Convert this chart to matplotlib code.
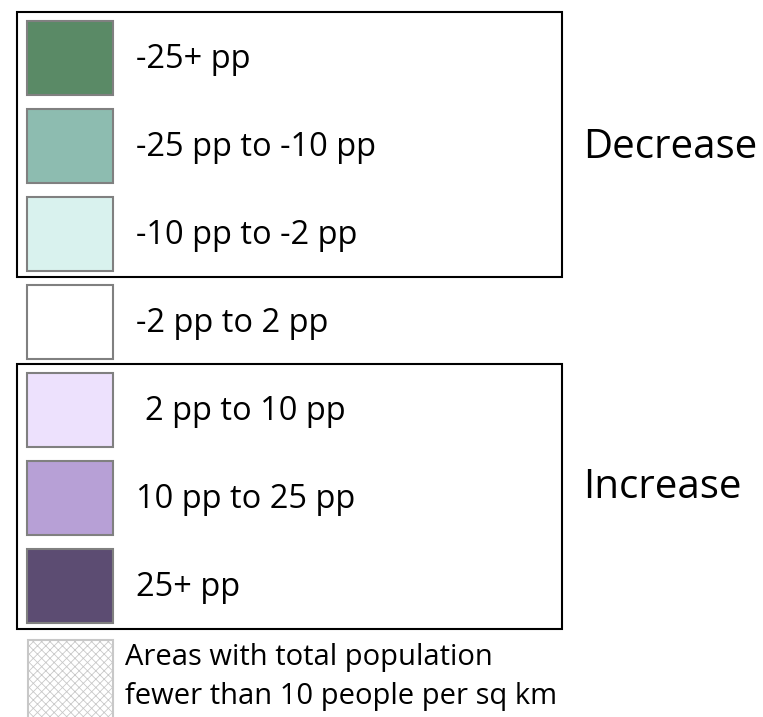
import matplotlib
matplotlib.use("Agg")
import matplotlib.pyplot as plt
from matplotlib.patches import Rectangle

plt.rcParams["font.family"] = ["Open Sans", "DejaVu Sans"]
plt.rcParams["hatch.linewidth"] = 0.6

# legend entries, top to bottom
labels = ["-25+ pp", "-25 pp to -10 pp", "-10 pp to -2 pp", "-2 pp to 2 pp",
          "2 pp to 10 pp", "10 pp to 25 pp", "25+ pp"]
colors = ["#5a8a66", "#8dbcb0", "#d9f2ee", "#ffffff",
          "#ede1fd", "#b7a0d6", "#5c4c72"]
groups = ["Decrease", "Increase"]
group_rows = [(0, 2), (4, 6)]
hatch_lines = ["Areas with total population", "fewer than 10 people per sq km"]

W, H = 763, 717
fig = plt.figure(figsize=(W / 100, H / 100), dpi=100)
ax = fig.add_axes([0, 0, 1, 1])
ax.set_xlim(0, W)
ax.set_ylim(H, 0)
ax.axis("off")

sw_x, sw_w, sw_h, top0, step = 27, 86, 74, 21, 88

for i, (lab, col) in enumerate(zip(labels, colors)):
    y = top0 + i * step
    ax.add_patch(Rectangle((sw_x, y), sw_w, sw_h, facecolor=col,
                           edgecolor="#808080", linewidth=1.5))
    tx = 145 if lab.startswith("2 pp") else 136
    ax.text(tx, y + sw_h / 2 + 10, lab, fontsize=23.5, va="baseline", ha="left")

# group frames and side labels
label_baselines = [158, 498]
for name, (a, b), yb in zip(groups, group_rows, label_baselines):
    y0 = top0 + a * step - 9
    y1 = top0 + b * step + sw_h + 6
    ax.add_patch(Rectangle((17, y0), 545, y1 - y0, facecolor="none",
                           edgecolor="black", linewidth=1.5))
    ax.text(583, yb, name, fontsize=29, va="baseline", ha="left")

# hatched swatch for sparse areas
y = top0 + 7 * step + 3
ax.add_patch(Rectangle((sw_x + 1, y), sw_w - 1, sw_h + 10, facecolor="white",
                       edgecolor="#c8c8c8", hatch="xxxx", linewidth=1.5))
for k, line in enumerate(hatch_lines):
    ax.text(125, 665 + 39 * k, line, fontsize=21, va="baseline", ha="left")

fig.savefig("out.png", dpi=100)
